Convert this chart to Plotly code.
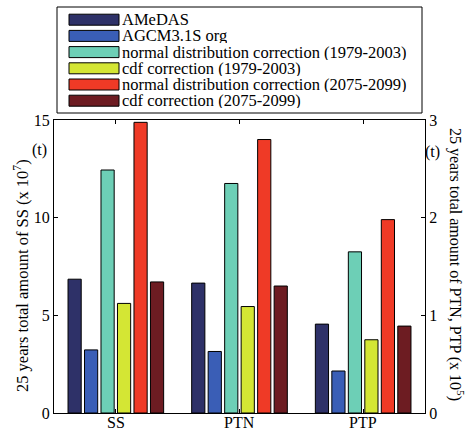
import plotly.graph_objects as go

# Totals over 25 years, per substance
categories = ["SS", "PTN", "PTP"]
series_names = [
    "AMeDAS",
    "AGCM3.1S org",
    "normal distribution correction (1979-2003)",
    "cdf correction (1979-2003)",
    "normal distribution correction (2075-2099)",
    "cdf correction (2075-2099)",
]
series_colors = ["#2e3168", "#3a5eb6", "#6dcfb6", "#d4e634", "#ef3a26", "#6d1c22"]

# SS in units of 10^7 t (left axis)
ss_values = [6.85, 3.23, 12.44, 5.61, 14.88, 6.71]
# PTN and PTP in units of 10^5 t (right axis)
ptn_values = [1.33, 0.63, 2.35, 1.09, 2.80, 1.30]
ptp_values = [0.91, 0.43, 1.65, 0.75, 1.98, 0.89]

left_ticks = [0, 5, 10, 15]
right_ticks = [0, 1, 2, 3]

W, H = 470, 432
L, R, T, B = 54, 45, 120, 19
PW, PH = W - L - R, H - T - B


def px(x):
    return (x - L) / PW


def py(y):
    return (H - B - y) / PH


FONT = "Liberation Serif, Times New Roman, serif"


def label(x, y, text, size=15, angle=0, xanchor="center", xref="paper", height=None):
    fig.add_annotation(
        xref=xref, yref="paper", x=x, y=y, xanchor=xanchor, yanchor="middle",
        showarrow=False, textangle=angle, text=text, height=height, borderpad=0,
        font=dict(family=FONT, size=size, color="black"),
    )


fig = go.Figure()
for i, name in enumerate(series_names):
    common = dict(
        marker=dict(color=series_colors[i], line=dict(color="black", width=1)),
        offsetgroup=str(i),
        alignmentgroup="g",
        showlegend=False,
        name=name,
    )
    fig.add_trace(go.Bar(x=[categories[0]], y=[ss_values[i]], yaxis="y", **common))
    fig.add_trace(go.Bar(x=categories[1:], y=[ptn_values[i], ptp_values[i]], yaxis="y2", **common))

axis_common = dict(
    showline=True, linecolor="black", linewidth=1, automargin=False,
    ticks="inside", ticklen=4, tickcolor="black", showgrid=False, zeroline=False,
    tickfont=dict(family=FONT, size=16, color="black"),
)

fig.update_layout(
    width=W, height=H,
    margin=dict(l=L, r=R, t=T, b=B),
    paper_bgcolor="white", plot_bgcolor="white",
    barmode="group", bargap=0.2, bargroupgap=0.2,
    showlegend=False,
    xaxis=dict(
        categoryorder="array", categoryarray=categories, range=[-0.5, 2.5],
        mirror="ticks", showticklabels=False, **axis_common,
    ),
    yaxis=dict(range=[0, 15], tickvals=left_ticks, mirror=False, **axis_common),
    yaxis2=dict(range=[0, 3], tickvals=right_ticks, overlaying="y", side="right",
                mirror=False, **axis_common),
)

# Category labels just under the frame
for c in categories:
    label(c, py(422), c, size=16, xref="x")

# Axis titles and unit marks
label(px(21), py(276), "25 years total amount of SS (x 10<sup>7</sup>)", size=16.5, angle=-90)
label(px(457), py(264), "25 years total amount of PTN, PTP (x 10<sup>5</sup>)", size=16, angle=90)
label(px(39.5), py(150), "(t)", size=16)
label(px(432), py(152), "(t)", size=16)

# Legend box with wide swatches
fig.add_shape(type="rect", xref="paper", yref="paper",
              x0=px(57), x1=px(422), y0=py(113), y1=py(7),
              line=dict(color="black", width=1), fillcolor="white")
for i, name in enumerate(series_names):
    cy = 19.7 + 16.2 * i
    fig.add_shape(type="rect", xref="paper", yref="paper",
                  x0=px(69), x1=px(119), y0=py(cy + 5.5), y1=py(cy - 5.5),
                  line=dict(color="black", width=1), fillcolor=series_colors[i])
    label(px(121), py(cy), name, size=16.5, xanchor="left", height=15)

fig.write_html("out.html")
